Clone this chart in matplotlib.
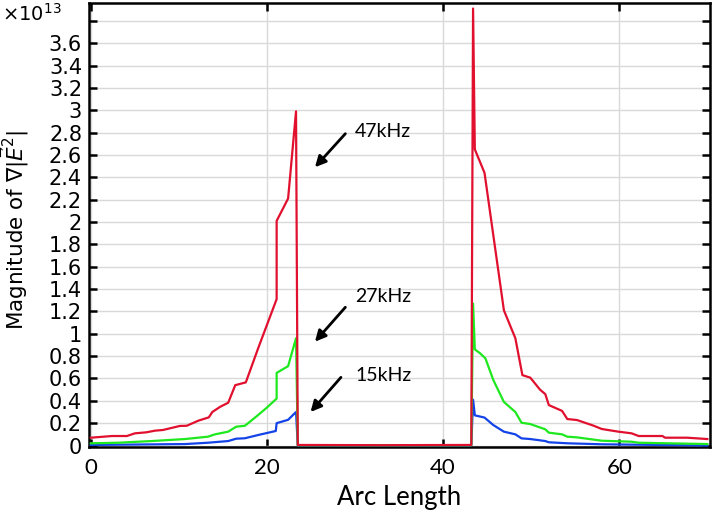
import numpy as np
import matplotlib
matplotlib.use("Agg")
import matplotlib.pyplot as plt
from matplotlib.ticker import FixedLocator, FuncFormatter

# values are in units of 1e13
red_x = [0, 2.4, 4.1, 5.0, 6.3, 7.3, 8.2, 10.1, 10.9, 12.2, 13.4, 13.8, 14.7, 15.6,
	16.4, 17.6, 19.0, 21.1, 21.1, 22.4, 23.3, 23.5, 33.0, 43.2, 43.4, 43.6, 44.7,
	46.9, 48.2, 49.0, 49.9, 51.0, 51.6, 52.0, 53.5, 54.1, 55.2, 57.1, 58.0, 59.9,
	61.4, 62.2, 64.9, 65.2, 67.7, 70.0]
red_y = [0.07, 0.085, 0.085, 0.109, 0.118, 0.133, 0.139, 0.175, 0.177, 0.222, 0.252,
	0.30, 0.347, 0.383, 0.54, 0.565, 0.87, 1.31, 2.01, 2.21, 2.99, 0.005, 0.003,
	0.005, 3.91, 2.65, 2.44, 1.21, 0.96, 0.63, 0.607, 0.50, 0.46, 0.362, 0.31,
	0.237, 0.228, 0.177, 0.148, 0.124, 0.109, 0.085, 0.085, 0.07, 0.07, 0.058]

green_x = [0, 3.1, 6.9, 10.7, 13.3, 14.1, 15.6, 16.5, 17.5, 19.0, 20.1, 21.1, 21.1,
	22.4, 23.3, 23.5, 43.2, 43.4, 43.6, 44.2, 44.8, 45.7, 46.9, 48.2, 48.9, 49.9,
	51.6, 52.0, 53.5, 54.1, 55.2, 58.0, 61.4, 62.2, 70.0]
green_y = [0.02, 0.025, 0.04, 0.058, 0.079, 0.10, 0.124, 0.168, 0.177, 0.273, 0.347,
	0.42, 0.65, 0.71, 0.96, 0.003, 0.003, 1.27, 0.86, 0.825, 0.78, 0.586, 0.39,
	0.30, 0.204, 0.192, 0.145, 0.115, 0.10, 0.079, 0.073, 0.043, 0.034, 0.025, 0.013]

blue_x = [0, 10.7, 13.3, 15.6, 16.5, 17.5, 19.0, 21.0, 21.1, 22.4, 23.3, 23.5, 43.2,
	43.4, 43.6, 44.7, 45.7, 46.9, 48.2, 48.9, 49.9, 51.6, 52.0, 54.1, 58.0, 70.0]
blue_y = [0.005, 0.013, 0.025, 0.04, 0.061, 0.065, 0.094, 0.13, 0.20, 0.23, 0.30,
	0.002, 0.002, 0.41, 0.27, 0.25, 0.183, 0.124, 0.10, 0.064, 0.058, 0.04, 0.029,
	0.02, 0.011, 0.0]

freq_labels = ["47kHz", "27kHz", "15kHz"]
x_ticks = [0, 20, 40, 60]
y_ticks = np.round(np.arange(0, 3.81, 0.2), 1)

plt.rcParams['mathtext.fontset'] = 'dejavusans'

fig = plt.figure(figsize=(7.14, 5.14), dpi=100)
ax = fig.add_axes([0.1247, 0.1304, 0.8697, 0.8628])

ax.plot(blue_x, blue_y, color='#1443e8', lw=1.6, zorder=3)
ax.plot(green_x, green_y, color='#1ee81e', lw=1.6, zorder=4)
ax.plot(red_x, red_y, color='#e0102e', lw=1.6, zorder=5)

ax.set_xlim(-0.2, 70.3)
ax.set_ylim(-0.013, 3.955)

ax.xaxis.set_major_locator(FixedLocator(x_ticks))
ax.yaxis.set_major_locator(FixedLocator(y_ticks))
ax.yaxis.set_major_formatter(FuncFormatter(lambda v, p: '' if v > 3.7 else '%g' % v))

ax.grid(True, color='#d9d9d9', lw=1.0, zorder=0)
ax.set_axisbelow(True)

ax.tick_params(which='both', direction='in', top=True, right=True, length=6, width=1.8)
ax.tick_params(axis='y', labelsize=15, pad=5)
ax.tick_params(axis='x', labelsize=16, pad=8)
for lab in ax.get_xticklabels():
	lab.set_family('Lato')
for s in ax.spines.values():
	s.set_linewidth(1.8)

ax.set_xlabel("Arc Length", family='Lato', fontsize=18.5)
ax.xaxis.set_label_coords(0.5, -0.085)
ax.set_ylabel(r"Magnitude of $\nabla|\vec{E}^2|$", fontsize=15.5)
ax.yaxis.set_label_coords(-0.093, 0.49)

fig.text(0.003, 0.995, r"$\times10^{13}$", fontsize=14, va='top', ha='left')

# arrows + labels
arrow_tail = [(28.9, 2.79), (28.9, 1.237), (28.4, 0.61)]
arrow_tip = [(25.45, 2.49), (25.45, 0.929), (24.95, 0.30)]
text_pos = [(30.0, 2.81), (30.0, 1.33), (30.0, 0.63)]
for lab, t0, t1, tp in zip(freq_labels, arrow_tail, arrow_tip, text_pos):
	ax.annotate('', xy=t1, xytext=t0,
		arrowprops=dict(arrowstyle='-|>', color='black', lw=2, mutation_scale=16,
			shrinkA=0, shrinkB=0))
	ax.text(tp[0], tp[1], lab, family='Lato', fontsize=14, va='center', ha='left')

fig.savefig("out.png", dpi=100)
